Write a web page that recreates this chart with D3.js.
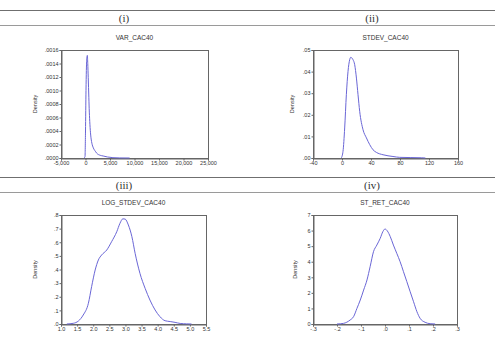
<!DOCTYPE html>
<html>
<head>
<meta charset="utf-8">
<script src="https://cdn.jsdelivr.net/npm/d3@7"></script>
<style>
  body { margin: 0; background: #fff; }
  svg { display: block; }
</style>
</head>
<body>
<svg id="chart" width="495" height="342"></svg>
<script>
// Panel labels and titles
var panelLabels = ["(i)", "(ii)", "(iii)", "(iv)"];
var seriesNames = ["VAR_CAC40", "STDEV_CAC40", "LOG_STDEV_CAC40", "ST_RET_CAC40"];

// Axis ticks for each panel
var xTicks = [
  [-5000, 0, 5000, 10000, 15000, 20000, 25000],
  [-40, 0, 40, 80, 120, 160],
  [1.0, 1.5, 2.0, 2.5, 3.0, 3.5, 4.0, 4.5, 5.0, 5.5],
  [-0.3, -0.2, -0.1, 0.0, 0.1, 0.2, 0.3]
];
var yTicks = [
  [0, 0.0002, 0.0004, 0.0006, 0.0008, 0.0010, 0.0012, 0.0014, 0.0016],
  [0, 0.01, 0.02, 0.03, 0.04, 0.05],
  [0, 0.1, 0.2, 0.3, 0.4, 0.5, 0.6, 0.7, 0.8],
  [0, 1, 2, 3, 4, 5, 6, 7]
];

// Kernel density estimates: [x, density]
var varDensity = [
  [-300, 0], [-100, 0.00002], [0, 0.0004], [100, 0.0010], [250, 0.00145],
  [380, 0.00152], [460, 0.00140], [560, 0.00119], [680, 0.00090],
  [780, 0.00068], [900, 0.00050], [1060, 0.00034], [1300, 0.00022],
  [1600, 0.00015], [2000, 0.00010], [2300, 0.00007], [3000, 0.00004],
  [3600, 0.00003], [4500, 0.000015], [5600, 0.000005], [7000, 0.000001],
  [9000, 0]
];
var stdevDensity = [
  [-1, 0], [1.4, 0.0031], [3.7, 0.0139], [6.0, 0.0293], [8.3, 0.0401],
  [10.6, 0.0455], [12, 0.0466], [15.2, 0.0455], [17.5, 0.0432],
  [19.9, 0.0370], [22.1, 0.0293], [24.4, 0.0216], [29, 0.0131],
  [33.7, 0.0093], [38.2, 0.0062], [42.8, 0.0038], [47.4, 0.0026],
  [56.6, 0.0015], [70.3, 0.0007], [79.6, 0.0003], [95, 0.0002],
  [110, 0.0001], [115, 0]
];
var logStdevDensity = [
  [1.18, 0], [1.38, 0.005], [1.54, 0.022], [1.69, 0.066], [1.85, 0.152],
  [1.95, 0.274], [2.06, 0.396], [2.16, 0.47], [2.26, 0.506], [2.42, 0.543],
  [2.57, 0.604], [2.73, 0.677], [2.83, 0.739], [2.92, 0.772], [2.99, 0.770],
  [3.09, 0.727], [3.2, 0.641], [3.3, 0.519], [3.45, 0.372], [3.61, 0.262],
  [3.76, 0.176], [3.92, 0.103], [4.07, 0.054], [4.23, 0.024], [4.39, 0.018],
  [4.54, 0.012], [4.7, 0.004], [4.9, 0.001], [5.05, 0]
];
var stRetDensity = [
  [-0.2, 0], [-0.173, 0.04], [-0.145, 0.26], [-0.131, 0.47], [-0.117, 1.0],
  [-0.103, 1.54], [-0.089, 2.18], [-0.075, 2.83], [-0.062, 3.68],
  [-0.048, 4.64], [-0.034, 5.07], [-0.02, 5.5], [-0.009, 5.93], [0, 6.1],
  [0.01, 5.97], [0.022, 5.61], [0.035, 5.07], [0.049, 4.54], [0.063, 4.0],
  [0.077, 3.36], [0.091, 2.72], [0.105, 2.07], [0.119, 1.43], [0.133, 0.79],
  [0.146, 0.37], [0.167, 0.11], [0.188, 0.02], [0.209, 0]
];
var densities = [varDensity, stdevDensity, logStdevDensity, stRetDensity];

// number formats (EViews style, no leading zero, plain hyphen)
function plain(f) {
  return function (v) { return f(v).replace(/\u2212/g, "-"); };
}
function noLead(f) {
  return function (v) { return f(v).replace(/\u2212/g, "-").replace(/^(-?)0\./, "$1."); };
}
var xFormats = [plain(d3.format(",")), plain(d3.format("d")), d3.format(".1f"), noLead(d3.format(".1f"))];
var yFormats = [noLead(d3.format(".4f")), noLead(d3.format(".2f")), noLead(d3.format(".1f")), d3.format("d")];

// layout of the four panels
var layout = [
  { col: 0, row: 0, box: [61, 208, 50, 158], dens: 37 },
  { col: 1, row: 0, box: [313, 458, 50, 158], dens: 294 },
  { col: 0, row: 1, box: [61, 206, 215, 324], dens: 37 },
  { col: 1, row: 1, box: [313, 457, 215, 324], dens: 297 }
];
var rowLines = [[10, 25], [177, 192]];

var svg = d3.select("#chart");

// header rules
rowLines.forEach(function (r) {
  svg.append("line").attr("x1", 0).attr("x2", 495).attr("y1", r[0] + 0.5).attr("y2", r[0] + 0.5)
    .attr("stroke", "#6f6f6f").attr("stroke-width", 1);
  svg.append("line").attr("x1", 0).attr("x2", 495).attr("y1", r[1] + 0.5).attr("y2", r[1] + 0.5)
    .attr("stroke", "#9a9a9a").attr("stroke-width", 1);
});

layout.forEach(function (p, i) {
  var left = p.box[0], right = p.box[1], top = p.box[2], bottom = p.box[3];
  var headerY = rowLines[p.row];

  svg.append("text")
    .attr("x", p.col === 0 ? 124 : 372)
    .attr("y", (headerY[0] + headerY[1]) / 2 + 4)
    .attr("text-anchor", "middle")
    .attr("font-family", "Liberation Serif, Times New Roman, serif")
    .attr("font-size", 11)
    .attr("font-weight", "normal")
    .attr("fill", "#333")
    .text(panelLabels[i]);

  var x = d3.scaleLinear()
    .domain([xTicks[i][0], xTicks[i][xTicks[i].length - 1]])
    .range([left, right]);
  var y = d3.scaleLinear()
    .domain([yTicks[i][0], yTicks[i][yTicks[i].length - 1]])
    .range([bottom, top]);

  var g = svg.append("g");

  // frame
  g.append("rect")
    .attr("x", left + 0.5).attr("y", top + 0.5)
    .attr("width", right - left).attr("height", bottom - top)
    .attr("fill", "none").attr("stroke", "#666").attr("stroke-width", 1);

  var xAxis = g.append("g")
    .attr("transform", "translate(0," + (bottom + 0.5) + ")")
    .call(d3.axisBottom(x).tickValues(xTicks[i]).tickFormat(xFormats[i]).tickSize(2).tickPadding(1));
  var yAxis = g.append("g")
    .attr("transform", "translate(" + (left + 0.5) + ",0)")
    .call(d3.axisLeft(y).tickValues(yTicks[i]).tickFormat(yFormats[i]).tickSize(2).tickPadding(1));

  [xAxis, yAxis].forEach(function (a) {
    a.select(".domain").attr("stroke", "#666");
    a.selectAll(".tick line").attr("stroke", "#666");
    a.selectAll(".tick text")
      .attr("font-family", "Liberation Sans, Arial, sans-serif")
      .attr("font-size", 5.5)
      .attr("fill", "#333");
  });
  yAxis.selectAll(".tick text").attr("dy", "0.32em");

  // density curve
  var line = d3.line()
    .x(function (d) { return x(d[0]); })
    .y(function (d) { return y(d[1]); })
    .curve(d3.curveMonotoneX);
  g.append("path")
    .datum(densities[i])
    .attr("d", line)
    .attr("fill", "none")
    .attr("stroke", "#6a66d6")
    .attr("stroke-width", 1);

  // title
  svg.append("text")
    .attr("x", (left + right) / 2)
    .attr("y", top - 10)
    .attr("text-anchor", "middle")
    .attr("font-family", "Liberation Sans, Arial, sans-serif")
    .attr("font-size", 6.5)
    .attr("fill", "#333")
    .text(seriesNames[i]);

  // y label
  svg.append("text")
    .attr("transform", "translate(" + p.dens + "," + ((top + bottom) / 2) + ") rotate(-90)")
    .attr("text-anchor", "middle")
    .attr("font-family", "Liberation Sans, Arial, sans-serif")
    .attr("font-size", 5.5)
    .attr("fill", "#333")
    .text("Density");
});
</script>
</body>
</html>
